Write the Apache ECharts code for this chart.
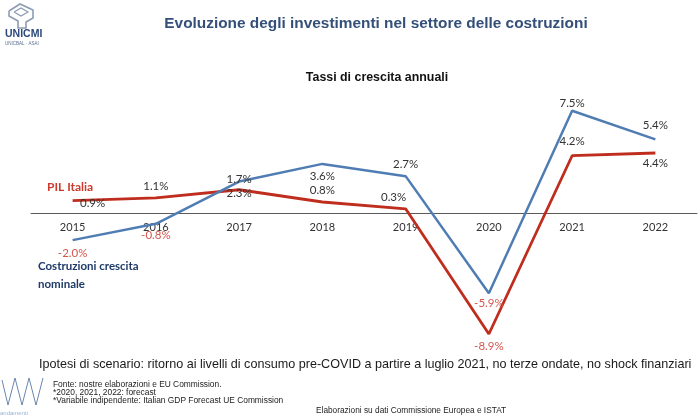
<!DOCTYPE html>
<html>
<head>
<meta charset="utf-8">
<script src="https://cdn.jsdelivr.net/npm/echarts@6/dist/echarts.min.js"></script>
<style>
html,body{margin:0;padding:0;background:#fff;}
#chart{width:700px;height:418px;}
</style>
</head>
<body>
<div id="chart"></div>
<script>
// ---- Data ----
var years = ['2015','2016','2017','2018','2019','2020','2021','2022'];
// PIL Italia (line values)
var pilValues = [0.9, 1.1, 1.7, 0.8, 0.3, -8.9, 4.2, 4.4];
// Costruzioni crescita nominale (line values)
var costrValues = [-2.0, -0.8, 2.3, 3.6, 2.7, -5.9, 7.5, 5.4];
// Label texts as printed in the source chart
var pilLabels = ['0.9%', '1.1%', '2.3%', '0.8%', '0.3%', '-8.9%', '4.2%', '4.4%'];
var costrLabels = ['-2.0%', '-0.8%', '1.7%', '3.6%', '2.7%', '-5.9%', '7.5%', '5.4%'];

// ---- Label placement (style, not data) ----
var pilLabelOffsets = [[20,3],[0,-12],[0,4],[0,-12],[-12,-12],[0,12],[0,-14],[0,10]];
var costrLabelOffsets = [[0,13],[0,12],[0,-2],[0,12],[0,-12],[0,10],[0,-8],[0,-14]];

var RED = '#bf2d1e', BLUE = '#4f7db3';
var NEG = '#d4564c', LBL = '#333333';
var FONT = 'Lato, "Open Sans", sans-serif';
var YMIN = -10, YMAX = 8, GRID_TOP = 104, GRID_H = 245;

function buildData(values, texts, offsets) {
  return values.map(function (v, i) {
    var t = texts[i];
    return {
      value: v,
      label: {
        show: true,
        position: 'inside',
        offset: offsets[i],
        formatter: t,
        color: t.charAt(0) === '-' ? NEG : LBL,
        fontFamily: FONT,
        fontSize: 11.5
      }
    };
  });
}

var chart = echarts.init(document.getElementById('chart'), null, {renderer: 'canvas'});

// distance from grid bottom to the zero line (axis placed on zero)
var zeroOffset = GRID_H * (0 - YMIN) / (YMAX - YMIN);

var option = {
  backgroundColor: '#ffffff',
  animation: false,
  title: [
    {
      text: 'Evoluzione degli investimenti nel settore delle costruzioni',
      left: 371, top: 11, textAlign: 'center',
      textStyle: {fontFamily: '"Liberation Sans", Arial, sans-serif', fontSize: 15.4, fontWeight: 'bold', color: '#34507a'}
    },
    {
      text: 'Tassi di crescita annuali',
      left: 372, top: 67, textAlign: 'center',
      textStyle: {fontFamily: '"Liberation Sans", Arial, sans-serif', fontSize: 12.4, fontWeight: 'bold', color: '#111'}
    }
  ],
  grid: {left: 31, right: 3, top: GRID_TOP, height: GRID_H, containLabel: false},
  xAxis: {
    type: 'category',
    data: years,
    boundaryGap: true,
    offset: -zeroOffset,
    axisLine: {onZero: false, lineStyle: {color: '#5a5a5a', width: 1}},
    axisTick: {show: false},
    axisLabel: {color: '#333', fontFamily: FONT, fontSize: 11, margin: 9}
  },
  yAxis: {
    type: 'value', min: YMIN, max: YMAX,
    show: false,
    splitLine: {show: false}
  },
  series: [
    {
      name: 'Costruzioni crescita nominale',
      type: 'line',
      data: buildData(costrValues, costrLabels, costrLabelOffsets),
      symbol: 'circle',
      symbolSize: 0,
      showSymbol: true,
      lineStyle: {color: BLUE, width: 2.5},
      itemStyle: {color: BLUE},
      z: 3
    },
    {
      name: 'PIL Italia',
      type: 'line',
      data: buildData(pilValues, pilLabels, pilLabelOffsets),
      symbol: 'circle',
      symbolSize: 0,
      showSymbol: true,
      lineStyle: {color: RED, width: 2.8},
      itemStyle: {color: RED},
      z: 2
    }
  ],
  graphic: [
    // series name annotations
    {type: 'text', left: 47, top: 181, style: {text: 'PIL Italia', fill: '#cc3a2c', font: 'bold 12px ' + FONT}},
    {type: 'text', left: 38, top: 260, style: {text: 'Costruzioni crescita', fill: '#1f3a68', font: 'bold 11.5px ' + FONT}},
    {type: 'text', left: 38, top: 278, style: {text: 'nominale', fill: '#1f3a68', font: 'bold 11.5px ' + FONT}},
    // bottom texts
    {type: 'text', left: 39, top: 358, style: {text: 'Ipotesi di scenario: ritorno ai livelli di consumo pre-COVID a partire a luglio 2021, no terze ondate, no shock finanziari', fill: '#1a1a1a', font: '12.6px "Liberation Sans", Arial, sans-serif'}},
    {type: 'text', left: 53, top: 381, style: {text: 'Fonte: nostre elaborazioni e EU Commission.', fill: '#222', font: '8.4px "Liberation Sans", Arial, sans-serif'}},
    {type: 'text', left: 53, top: 389, style: {text: '*2020, 2021, 2022: forecast', fill: '#222', font: '8.4px "Liberation Sans", Arial, sans-serif'}},
    {type: 'text', left: 53, top: 397, style: {text: '*Variabile indipendente: Italian GDP Forecast UE Commission', fill: '#222', font: '8.4px "Liberation Sans", Arial, sans-serif'}},
    {type: 'text', left: 316, top: 407, style: {text: 'Elaborazioni su dati Commissione Europea e ISTAT', fill: '#222', font: '8.3px "Liberation Sans", Arial, sans-serif'}},
    // UNICMI logo (approximation)
    {type: 'polyline', shape: {points: [[9,11],[20,4],[33,10],[33,18],[26,22],[26,28],[18,28],[18,21],[9,16],[9,11]]}, style: {stroke: '#8d9cb3', fill: 'none', lineWidth: 1.6}},
    {type: 'polyline', shape: {points: [[14,12],[21,8],[28,12],[21,16],[14,12]]}, style: {stroke: '#8d9cb3', fill: 'none', lineWidth: 1.2}},
    {type: 'text', left: 5, top: 29, style: {text: 'UNICMI', fill: '#2c4a7c', font: 'bold 10.5px "Liberation Sans", Arial, sans-serif'}},
    {type: 'text', left: 5, top: 41, style: {text: 'UNICBAL · ASAI', fill: '#5a6f91', font: '4.5px "Liberation Sans", Arial, sans-serif'}},
    // bottom-left logo (approximation)
    {type: 'polyline', shape: {points: [[2,380],[8,405],[15,378],[22,405],[29,378],[36,405],[43,378]]}, style: {stroke: '#6a86ae', fill: 'none', lineWidth: 1}},
    {type: 'text', left: 0, top: 410, style: {text: 'andamenti', fill: '#9bb3d3', font: '6px "Liberation Sans", Arial, sans-serif'}}
  ]
};
chart.setOption(option);
</script>
</body>
</html>
